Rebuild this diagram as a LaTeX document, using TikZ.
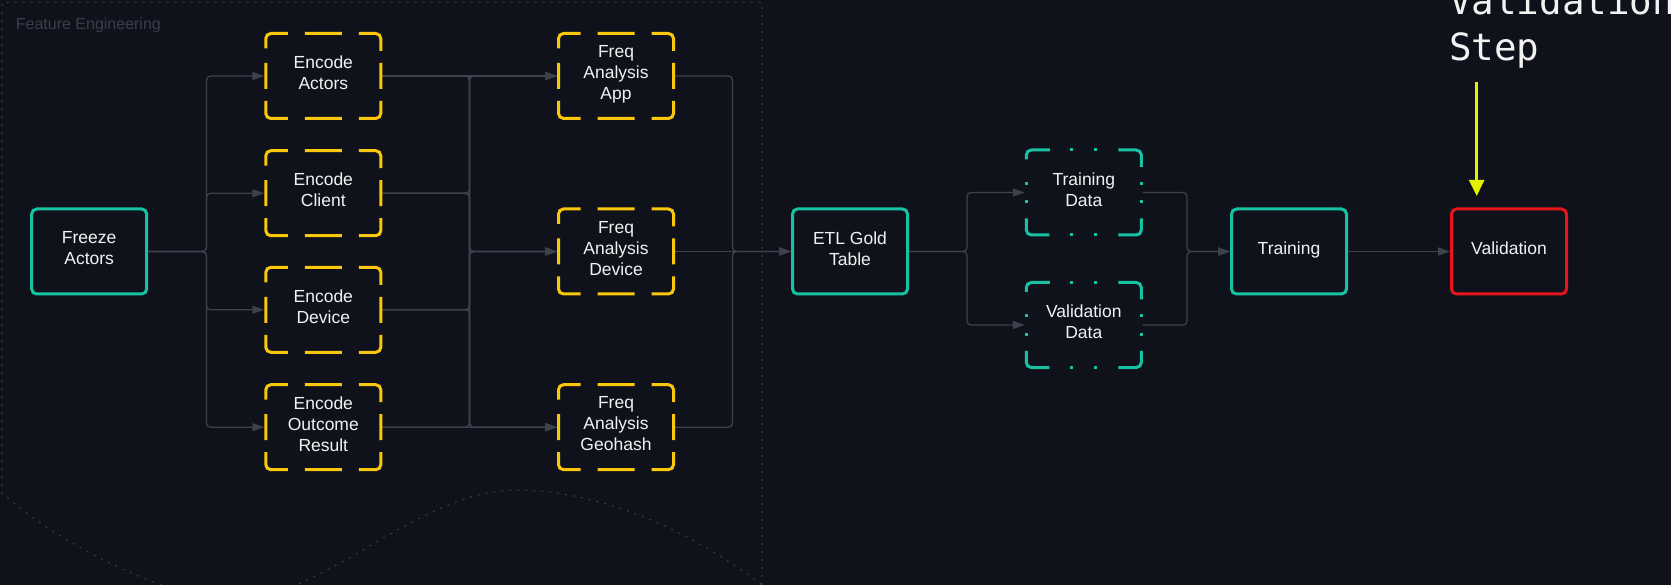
\documentclass[tikz,border=0pt]{standalone}
\usepackage{fontspec}
\setmainfont{Liberation Sans}
\newfontfamily\monofont{DejaVu Sans Mono}
\usetikzlibrary{arrows.meta,calc}

\definecolor{bg}{HTML}{10121B}
\definecolor{cteal}{HTML}{16C2A3}
\definecolor{cyellow}{HTML}{FAC70B}
\definecolor{cred}{HTML}{E6161B}
\definecolor{clime}{HTML}{E4F000}
\definecolor{cwire}{HTML}{3D414B}
\definecolor{cgroup}{HTML}{353945}
\definecolor{cgrouptext}{HTML}{3A3E4A}
\definecolor{ctext}{HTML}{F2F2F2}

% dashed yellow frame drawn piece by piece along the border of node #1
\newcommand\yframe[1]{%
  \draw[frameY]
    ($(#1.north west)+(1.5,16.5)$) -- ($(#1.north west)+(1.5,1.5)$) -- ($(#1.north west)+(23.5,1.5)$)
    ($(#1.north)+(-18.5,1.5)$) -- ($(#1.north)+(18.5,1.5)$)
    ($(#1.north east)+(-23.5,1.5)$) -- ($(#1.north east)+(-1.5,1.5)$) -- ($(#1.north east)+(-1.5,19)$)
    ($(#1.east)+(-1.5,-13)$) -- ($(#1.east)+(-1.5,13)$)
    ($(#1.south east)+(-1.5,-19)$) -- ($(#1.south east)+(-1.5,-1.5)$) -- ($(#1.south east)+(-23.5,-1.5)$)
    ($(#1.south)+(-18.5,-1.5)$) -- ($(#1.south)+(18.5,-1.5)$)
    ($(#1.south west)+(23.5,-1.5)$) -- ($(#1.south west)+(1.5,-1.5)$) -- ($(#1.south west)+(1.5,-19)$)
    ($(#1.west)+(1.5,-13)$) -- ($(#1.west)+(1.5,13)$);}

% dash-dot teal frame along the border of node #1
\newcommand\tframe[1]{%
  \draw[frameT]
    ($(#1.north west)+(1.5,11)$) -- ($(#1.north west)+(1.5,1.5)$) -- ($(#1.north west)+(25,1.5)$)
    ($(#1.north east)+(-24.5,1.5)$) -- ($(#1.north east)+(-1.5,1.5)$) -- ($(#1.north east)+(-1.5,18.5)$)
    ($(#1.south east)+(-1.5,-18)$) -- ($(#1.south east)+(-1.5,-1.5)$) -- ($(#1.south east)+(-24.5,-1.5)$)
    ($(#1.south west)+(24.5,-1.5)$) -- ($(#1.south west)+(1.5,-1.5)$) -- ($(#1.south west)+(1.5,-18)$);
  \foreach \q in {-12,12}{
    \fill[cteal] ($(#1.north)+(\q,1.5)$) +(-1.5,-1.5) rectangle +(1.5,1.5);
    \fill[cteal] ($(#1.south)+(\q,-1.5)$) +(-1.5,-1.5) rectangle +(1.5,1.5);}
  \foreach \q in {-9.25,9.25}{
    \fill[cteal] ($(#1.west)+(1.5,\q)$) +(-1.5,-1.5) rectangle +(1.5,1.5);
    \fill[cteal] ($(#1.east)+(-1.5,\q)$) +(-1.5,-1.5) rectangle +(1.5,1.5);}}

\begin{document}
\begin{tikzpicture}[x=1pt,y=-1pt,
  every node/.style={font=\fontsize{17.5}{21}\selectfont, text=ctext},
  box/.style={rectangle, minimum width=115pt, minimum height=85pt, inner sep=0pt,
    outer sep=1.5pt, line width=3pt, align=center, rounded corners=5pt,
    text depth=6.5pt},
  solidbox/.style={box, draw=#1, fill=bg},
  framebox/.style={box},
  frameY/.style={draw=cyellow, line width=3pt, rounded corners=5pt},
  frameT/.style={draw=cteal, line width=3pt, rounded corners=5pt},
  conn/.style={draw=cwire, line width=1.3pt, rounded corners=4pt,
    -{Triangle[length=12pt,width=8pt]}},
  grouplabel/.style={font=\fontsize{16}{19}\selectfont, text=cgrouptext, inner sep=0pt},
  groupline/.style={draw=cgroup, line width=1.2pt, dash pattern=on 2pt off 6pt},
  pointer/.style={draw=clime, line width=2.5pt, -{Triangle[length=16pt,width=15pt]}},
  steplabel/.style={font=\monofont\fontsize{37.5}{46}\selectfont, text=ctext,
    align=left, inner sep=0pt}]

% canvas
\fill[bg] (0,0) rectangle (1671,585);
\useasboundingbox (0,0) rectangle (1671,585);

% container
\draw[groupline] (762,585) -- (762,2.5) -- (2,2.5) -- (2,493)
  .. controls (60,545) and (170,600) .. (235,600)
  .. controls (320,600) and (420,490) .. (515,490)
  .. controls (600,490) and (690,530) .. (762,585);
\node[grouplabel, anchor=base west] (fe) at (15.7,30) {Feature Engineering};

% branch columns of the orthogonal wires
\coordinate (b1) at (206.5,0);
\coordinate (b2) at (469.5,0);
\coordinate (b3) at (732.5,0);
\coordinate (b4) at (967,0);
\coordinate (b5) at (1187,0);

% nodes
\node[solidbox=cteal] (fz) at (89.2,251.5) {Freeze\\Actors};
\node[framebox] (ea) at (323.3,76) {Encode\\Actors};
\node[framebox] (ec) at (323.3,193.2) {Encode\\Client};
\node[framebox] (ed) at (323.3,309.8) {Encode\\Device};
\node[framebox] (eo) at (323.3,427.2) {Encode\\Outcome\\Result};
\node[framebox] (fa) at (616,76) {Freq\\Analysis\\App};
\node[framebox] (fd) at (616,251.5) {Freq\\Analysis\\Device};
\node[framebox] (fg) at (616,427.2) {Freq\\Analysis\\Geohash};
\node[solidbox=cteal] (etl) at (850,251.5) {ETL Gold\\Table};
\node[framebox] (td) at (1083.8,192.5) {Training\\Data};
\node[framebox] (vd) at (1083.8,325) {Validation\\Data};
\node[solidbox=cteal] (tr) at (1289,251.5) {Training};
\node[solidbox=cred] (vl) at (1509,251.5) {Validation};

% wires
\foreach \s in {ea,ec,ed,eo}
  \draw[conn] (fz.east) -| (b1 |- \s.west) -- (\s.west);
\foreach \s/\t in {ea/fd,ea/fg,ec/fa,ec/fd,ec/fg,ed/fa,ed/fd,ed/fg,eo/fa,eo/fd}
  \draw[conn] (\s.east) -| (b2 |- \t.west) -- (\t.west);
\draw[conn] (ea.east) -- (fa.west);
\draw[conn] (eo.east) -- (fg.west);
\draw[conn] (fa.east) -| (b3 |- etl.west) -- (etl.west);
\draw[conn] (fd.east) -- (etl.west);
\draw[conn] (fg.east) -| (b3 |- etl.west) -- (etl.west);
\draw[conn] (etl.east) -| (b4 |- td.west) -- (td.west);
\draw[conn] (etl.east) -| (b4 |- vd.west) -- (vd.west);
\draw[conn] (td.east) -| (b5 |- tr.west) -- (tr.west);
\draw[conn] (vd.east) -| (b5 |- tr.west) -- (tr.west);
\draw[conn] (tr.east) -- (vl.west);

% frames
\foreach \n in {ea,ec,ed,eo,fa,fd,fg} {\yframe{\n}}
\tframe{td}
\tframe{vd}

% annotation
\node[steplabel, anchor=base west] (vs) at (1449,61) {Validation\\Step};
\coordinate (pt) at (1476.7,82);
\draw[pointer, shorten >=11.5pt] (pt) -- (pt |- vl.north);

\end{tikzpicture}
\end{document}
